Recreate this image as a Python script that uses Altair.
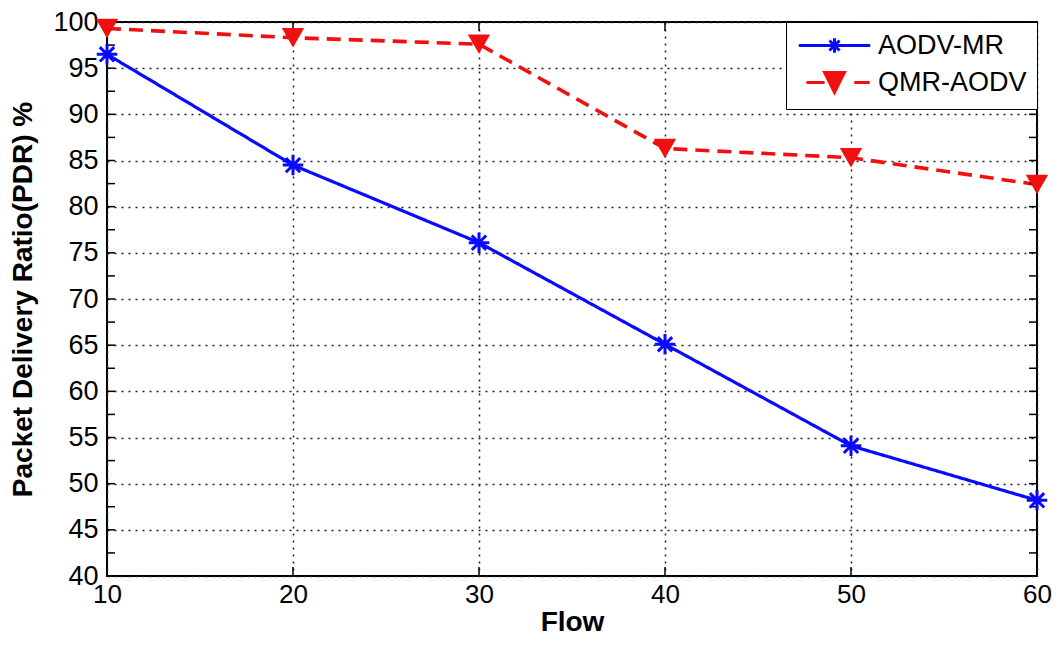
import altair as alt
import pandas as pd

flows = [10, 20, 30, 40, 50, 60]
aodv_mr = [96.5, 84.5, 76.1, 65.1, 54.1, 48.2]
qmr_aodv = [99.3, 98.3, 97.6, 86.3, 85.3, 82.4]
series_names = ["AODV-MR", "QMR-AODV"]
series_colors = ["#0a0aff", "#f01010"]
y_tick_values = [40, 45, 50, 55, 60, 65, 70, 75, 80, 85, 90, 95, 100]
y_minor_ticks = [42.5, 45, 47.5, 50, 52.5, 55, 57.5, 60, 62.5, 65, 67.5, 70, 72.5,
                 75, 77.5, 80, 82.5, 85, 87.5, 90, 92.5, 95, 97.5]
x_tick_values = [10, 20, 30, 40, 50, 60]
x_inner_ticks = [20, 30, 40, 50]

rows = []
for f, v in zip(flows, aodv_mr):
    rows.append({"flow": f, "pdr": v, "series": "AODV-MR"})
for f, v in zip(flows, qmr_aodv):
    rows.append({"flow": f, "pdr": v, "series": "QMR-AODV"})
df = pd.DataFrame(rows)

FONT = "Liberation Sans"

xscale = alt.Scale(domain=[10, 60], nice=False, zero=False)
yscale = alt.Scale(domain=[40, 100], nice=False, zero=False)

grid_style = dict(gridDash=[2, 5], gridColor="#222", gridWidth=1.5, gridOpacity=1)

x_enc = alt.X("flow:Q", scale=xscale, title="Flow",
              axis=alt.Axis(values=x_tick_values, format="d", grid=True,
                            ticks=False, tickSize=0, domain=False,
                            labelFontSize=26, labelFont=FONT, labelColor="black",
                            labelPadding=5, labelFlush=False,
                            titleFontSize=28, titleFont=FONT, titleFontWeight="bold",
                            titleColor="black", titlePadding=1, **grid_style))
y_enc = alt.Y("pdr:Q", scale=yscale, title="Packet Delivery Ratio(PDR) %",
              axis=alt.Axis(values=y_tick_values, grid=True,
                            ticks=False, tickSize=0, domain=False,
                            labelFontSize=27, labelFont=FONT, labelColor="black",
                            labelPadding=9, labelFlush=False,
                            titleFontSize=28, titleFont=FONT, titleFontWeight="bold",
                            titleColor="black", titlePadding=15, **grid_style))

color_scale = alt.Scale(domain=series_names, range=series_colors)

asterisk = "M-1,0H1M0,-1V1M-0.7,-0.7L0.7,0.7M-0.7,0.7L0.7,-0.7"

base = alt.Chart(df)

lines = base.mark_line(clip=True).encode(
    x=x_enc, y=y_enc,
    color=alt.Color("series:N", scale=color_scale, legend=None),
    strokeDash=alt.StrokeDash("series:N", scale=alt.Scale(domain=series_names, range=[[1, 0], [14, 8]]), legend=None),
    strokeWidth=alt.StrokeWidth("series:N", scale=alt.Scale(domain=series_names, range=[3.2, 3.6]), legend=None),
    order=alt.Order("flow:Q"),
)

stars = base.transform_filter(alt.datum.series == "AODV-MR").mark_point(
    shape=asterisk, size=420, filled=False, strokeWidth=3, opacity=1, color=series_colors[0]
).encode(x="flow:Q", y="pdr:Q")

tris = base.transform_filter(alt.datum.series == "QMR-AODV").mark_point(
    shape="triangle-down", size=500, filled=True, opacity=1, color=series_colors[1]
).encode(x="flow:Q", y="pdr:Q")


# legend symbols: line sample + marker, drawn as stroked paths
def hatched_triangle(hw, hh, step):
    parts = ["M%.2f,%.2fL%.2f,%.2fL0,%.2fZ" % (-hw, -hh, hw, -hh, hh)]
    y = -hh
    while y <= hh:
        w = hw * (hh - y) / (2 * hh)
        parts.append("M%.2f,%.2fH%.2f" % (-w, y, w))
        y += step
    return "".join(parts)


leg_a = "M-3.25,0H3.25M-0.65,0H0.65M0,-0.65V0.65M-0.46,-0.46L0.46,0.46M-0.46,0.46L0.46,-0.46"
leg_b = "M-2.55,0H-0.9M1.8,0H3.2" + hatched_triangle(0.9, 0.9, 0.15)
leg = alt.Legend(title=None, orient="top-right", offset=0,
                 labelFontSize=27, labelFont=FONT, labelColor="black",
                 symbolSize=484, symbolStrokeWidth=3, symbolOffset=25,
                 labelOffset=30, rowPadding=7, padding=10,
                 strokeColor="black", fillColor="white", cornerRadius=0)
legend_layer = base.transform_filter("false").mark_point(filled=False, opacity=1).encode(
    x="flow:Q", y="pdr:Q",
    shape=alt.Shape("series:N", scale=alt.Scale(domain=series_names, range=[leg_a, leg_b]), legend=leg),
    color=alt.Color("series:N", scale=alt.Scale(domain=series_names, range=series_colors), legend=leg),
)

tick_y = pd.DataFrame({"v": y_minor_ticks})
tick_x = pd.DataFrame({"v": x_inner_ticks})

tick_style = dict(thickness=1.5, color="black", clip=True, opacity=1)
yt_left = alt.Chart(tick_y).mark_tick(orient="horizontal", size=16, **tick_style).encode(
    y="v:Q", x=alt.datum(10))
yt_right = alt.Chart(tick_y).mark_tick(orient="horizontal", size=16, **tick_style).encode(
    y="v:Q", x=alt.datum(60))
xt_bottom = alt.Chart(tick_x).mark_tick(orient="vertical", size=18, **tick_style).encode(
    x="v:Q", y=alt.datum(40))
xt_top = alt.Chart(tick_x).mark_tick(orient="vertical", size=18, **tick_style).encode(
    x="v:Q", y=alt.datum(100))

chart = alt.layer(
    lines, yt_left, yt_right, xt_bottom, xt_top, stars, tris, legend_layer
).resolve_scale(
    color="independent", shape="independent"
).properties(
    width=930, height=554,
    autosize=alt.AutoSizeParams(type="none"),
    padding={"left": 99, "top": 14, "right": 16, "bottom": 62},
    background="white",
).configure_view(
    stroke="black", strokeWidth=2
)

chart.save("out.html", embed_options={"renderer": "svg", "actions": False})
